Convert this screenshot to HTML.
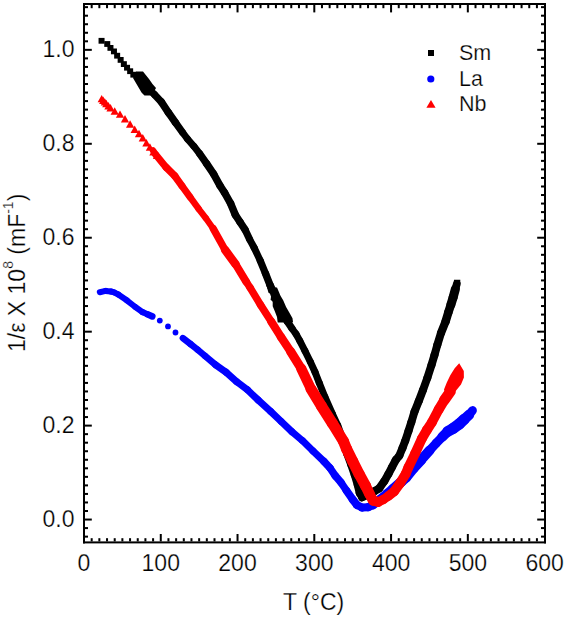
<!DOCTYPE html>
<html><head><meta charset="utf-8"><style>
html,body{margin:0;padding:0;background:#fff;width:566px;height:619px;overflow:hidden}
svg{display:block}
</style></head><body>
<svg width="566" height="619" viewBox="0 0 566 619">
<rect width="566" height="619" fill="#fff"/>
<rect x="83.0" y="3.0" width="2.0" height="540.4" fill="#000"/>
<rect x="544.0" y="3.0" width="2.0" height="540.4" fill="#000"/>
<rect x="83.0" y="3.0" width="463.0" height="2.0" fill="#000"/>
<rect x="83.0" y="541.4" width="463.0" height="2.0" fill="#000"/>
<rect x="90.68" y="538.20" width="2" height="3.2" fill="#000"/>
<rect x="90.68" y="5.00" width="2" height="3.2" fill="#000"/>
<rect x="98.35" y="538.20" width="2" height="3.2" fill="#000"/>
<rect x="98.35" y="5.00" width="2" height="3.2" fill="#000"/>
<rect x="106.03" y="538.20" width="2" height="3.2" fill="#000"/>
<rect x="106.03" y="5.00" width="2" height="3.2" fill="#000"/>
<rect x="113.71" y="538.20" width="2" height="3.2" fill="#000"/>
<rect x="113.71" y="5.00" width="2" height="3.2" fill="#000"/>
<rect x="121.38" y="538.20" width="2" height="3.2" fill="#000"/>
<rect x="121.38" y="5.00" width="2" height="3.2" fill="#000"/>
<rect x="129.06" y="538.20" width="2" height="3.2" fill="#000"/>
<rect x="129.06" y="5.00" width="2" height="3.2" fill="#000"/>
<rect x="136.74" y="538.20" width="2" height="3.2" fill="#000"/>
<rect x="136.74" y="5.00" width="2" height="3.2" fill="#000"/>
<rect x="144.41" y="538.20" width="2" height="3.2" fill="#000"/>
<rect x="144.41" y="5.00" width="2" height="3.2" fill="#000"/>
<rect x="152.09" y="538.20" width="2" height="3.2" fill="#000"/>
<rect x="152.09" y="5.00" width="2" height="3.2" fill="#000"/>
<rect x="159.77" y="534.00" width="2" height="7.4" fill="#000"/>
<rect x="159.77" y="5.00" width="2" height="7.4" fill="#000"/>
<rect x="167.44" y="538.20" width="2" height="3.2" fill="#000"/>
<rect x="167.44" y="5.00" width="2" height="3.2" fill="#000"/>
<rect x="175.12" y="538.20" width="2" height="3.2" fill="#000"/>
<rect x="175.12" y="5.00" width="2" height="3.2" fill="#000"/>
<rect x="182.80" y="538.20" width="2" height="3.2" fill="#000"/>
<rect x="182.80" y="5.00" width="2" height="3.2" fill="#000"/>
<rect x="190.47" y="538.20" width="2" height="3.2" fill="#000"/>
<rect x="190.47" y="5.00" width="2" height="3.2" fill="#000"/>
<rect x="198.15" y="538.20" width="2" height="3.2" fill="#000"/>
<rect x="198.15" y="5.00" width="2" height="3.2" fill="#000"/>
<rect x="205.83" y="538.20" width="2" height="3.2" fill="#000"/>
<rect x="205.83" y="5.00" width="2" height="3.2" fill="#000"/>
<rect x="213.50" y="538.20" width="2" height="3.2" fill="#000"/>
<rect x="213.50" y="5.00" width="2" height="3.2" fill="#000"/>
<rect x="221.18" y="538.20" width="2" height="3.2" fill="#000"/>
<rect x="221.18" y="5.00" width="2" height="3.2" fill="#000"/>
<rect x="228.86" y="538.20" width="2" height="3.2" fill="#000"/>
<rect x="228.86" y="5.00" width="2" height="3.2" fill="#000"/>
<rect x="236.53" y="534.00" width="2" height="7.4" fill="#000"/>
<rect x="236.53" y="5.00" width="2" height="7.4" fill="#000"/>
<rect x="244.21" y="538.20" width="2" height="3.2" fill="#000"/>
<rect x="244.21" y="5.00" width="2" height="3.2" fill="#000"/>
<rect x="251.89" y="538.20" width="2" height="3.2" fill="#000"/>
<rect x="251.89" y="5.00" width="2" height="3.2" fill="#000"/>
<rect x="259.56" y="538.20" width="2" height="3.2" fill="#000"/>
<rect x="259.56" y="5.00" width="2" height="3.2" fill="#000"/>
<rect x="267.24" y="538.20" width="2" height="3.2" fill="#000"/>
<rect x="267.24" y="5.00" width="2" height="3.2" fill="#000"/>
<rect x="274.92" y="538.20" width="2" height="3.2" fill="#000"/>
<rect x="274.92" y="5.00" width="2" height="3.2" fill="#000"/>
<rect x="282.59" y="538.20" width="2" height="3.2" fill="#000"/>
<rect x="282.59" y="5.00" width="2" height="3.2" fill="#000"/>
<rect x="290.27" y="538.20" width="2" height="3.2" fill="#000"/>
<rect x="290.27" y="5.00" width="2" height="3.2" fill="#000"/>
<rect x="297.95" y="538.20" width="2" height="3.2" fill="#000"/>
<rect x="297.95" y="5.00" width="2" height="3.2" fill="#000"/>
<rect x="305.62" y="538.20" width="2" height="3.2" fill="#000"/>
<rect x="305.62" y="5.00" width="2" height="3.2" fill="#000"/>
<rect x="313.30" y="534.00" width="2" height="7.4" fill="#000"/>
<rect x="313.30" y="5.00" width="2" height="7.4" fill="#000"/>
<rect x="320.98" y="538.20" width="2" height="3.2" fill="#000"/>
<rect x="320.98" y="5.00" width="2" height="3.2" fill="#000"/>
<rect x="328.65" y="538.20" width="2" height="3.2" fill="#000"/>
<rect x="328.65" y="5.00" width="2" height="3.2" fill="#000"/>
<rect x="336.33" y="538.20" width="2" height="3.2" fill="#000"/>
<rect x="336.33" y="5.00" width="2" height="3.2" fill="#000"/>
<rect x="344.01" y="538.20" width="2" height="3.2" fill="#000"/>
<rect x="344.01" y="5.00" width="2" height="3.2" fill="#000"/>
<rect x="351.68" y="538.20" width="2" height="3.2" fill="#000"/>
<rect x="351.68" y="5.00" width="2" height="3.2" fill="#000"/>
<rect x="359.36" y="538.20" width="2" height="3.2" fill="#000"/>
<rect x="359.36" y="5.00" width="2" height="3.2" fill="#000"/>
<rect x="367.04" y="538.20" width="2" height="3.2" fill="#000"/>
<rect x="367.04" y="5.00" width="2" height="3.2" fill="#000"/>
<rect x="374.71" y="538.20" width="2" height="3.2" fill="#000"/>
<rect x="374.71" y="5.00" width="2" height="3.2" fill="#000"/>
<rect x="382.39" y="538.20" width="2" height="3.2" fill="#000"/>
<rect x="382.39" y="5.00" width="2" height="3.2" fill="#000"/>
<rect x="390.07" y="534.00" width="2" height="7.4" fill="#000"/>
<rect x="390.07" y="5.00" width="2" height="7.4" fill="#000"/>
<rect x="397.74" y="538.20" width="2" height="3.2" fill="#000"/>
<rect x="397.74" y="5.00" width="2" height="3.2" fill="#000"/>
<rect x="405.42" y="538.20" width="2" height="3.2" fill="#000"/>
<rect x="405.42" y="5.00" width="2" height="3.2" fill="#000"/>
<rect x="413.10" y="538.20" width="2" height="3.2" fill="#000"/>
<rect x="413.10" y="5.00" width="2" height="3.2" fill="#000"/>
<rect x="420.77" y="538.20" width="2" height="3.2" fill="#000"/>
<rect x="420.77" y="5.00" width="2" height="3.2" fill="#000"/>
<rect x="428.45" y="538.20" width="2" height="3.2" fill="#000"/>
<rect x="428.45" y="5.00" width="2" height="3.2" fill="#000"/>
<rect x="436.13" y="538.20" width="2" height="3.2" fill="#000"/>
<rect x="436.13" y="5.00" width="2" height="3.2" fill="#000"/>
<rect x="443.80" y="538.20" width="2" height="3.2" fill="#000"/>
<rect x="443.80" y="5.00" width="2" height="3.2" fill="#000"/>
<rect x="451.48" y="538.20" width="2" height="3.2" fill="#000"/>
<rect x="451.48" y="5.00" width="2" height="3.2" fill="#000"/>
<rect x="459.16" y="538.20" width="2" height="3.2" fill="#000"/>
<rect x="459.16" y="5.00" width="2" height="3.2" fill="#000"/>
<rect x="466.83" y="534.00" width="2" height="7.4" fill="#000"/>
<rect x="466.83" y="5.00" width="2" height="7.4" fill="#000"/>
<rect x="474.51" y="538.20" width="2" height="3.2" fill="#000"/>
<rect x="474.51" y="5.00" width="2" height="3.2" fill="#000"/>
<rect x="482.19" y="538.20" width="2" height="3.2" fill="#000"/>
<rect x="482.19" y="5.00" width="2" height="3.2" fill="#000"/>
<rect x="489.86" y="538.20" width="2" height="3.2" fill="#000"/>
<rect x="489.86" y="5.00" width="2" height="3.2" fill="#000"/>
<rect x="497.54" y="538.20" width="2" height="3.2" fill="#000"/>
<rect x="497.54" y="5.00" width="2" height="3.2" fill="#000"/>
<rect x="505.22" y="538.20" width="2" height="3.2" fill="#000"/>
<rect x="505.22" y="5.00" width="2" height="3.2" fill="#000"/>
<rect x="512.89" y="538.20" width="2" height="3.2" fill="#000"/>
<rect x="512.89" y="5.00" width="2" height="3.2" fill="#000"/>
<rect x="520.57" y="538.20" width="2" height="3.2" fill="#000"/>
<rect x="520.57" y="5.00" width="2" height="3.2" fill="#000"/>
<rect x="528.25" y="538.20" width="2" height="3.2" fill="#000"/>
<rect x="528.25" y="5.00" width="2" height="3.2" fill="#000"/>
<rect x="535.92" y="538.20" width="2" height="3.2" fill="#000"/>
<rect x="535.92" y="5.00" width="2" height="3.2" fill="#000"/>
<rect x="85.00" y="535.63" width="3.0" height="2" fill="#000"/>
<rect x="541.00" y="535.63" width="3.0" height="2" fill="#000"/>
<rect x="85.00" y="527.09" width="3.0" height="2" fill="#000"/>
<rect x="541.00" y="527.09" width="3.0" height="2" fill="#000"/>
<rect x="85.00" y="518.55" width="6.8" height="2" fill="#000"/>
<rect x="537.20" y="518.55" width="6.8" height="2" fill="#000"/>
<rect x="85.00" y="510.01" width="3.0" height="2" fill="#000"/>
<rect x="541.00" y="510.01" width="3.0" height="2" fill="#000"/>
<rect x="85.00" y="501.47" width="3.0" height="2" fill="#000"/>
<rect x="541.00" y="501.47" width="3.0" height="2" fill="#000"/>
<rect x="85.00" y="492.93" width="3.0" height="2" fill="#000"/>
<rect x="541.00" y="492.93" width="3.0" height="2" fill="#000"/>
<rect x="85.00" y="484.39" width="3.0" height="2" fill="#000"/>
<rect x="541.00" y="484.39" width="3.0" height="2" fill="#000"/>
<rect x="85.00" y="475.85" width="3.0" height="2" fill="#000"/>
<rect x="541.00" y="475.85" width="3.0" height="2" fill="#000"/>
<rect x="85.00" y="467.31" width="3.0" height="2" fill="#000"/>
<rect x="541.00" y="467.31" width="3.0" height="2" fill="#000"/>
<rect x="85.00" y="458.77" width="3.0" height="2" fill="#000"/>
<rect x="541.00" y="458.77" width="3.0" height="2" fill="#000"/>
<rect x="85.00" y="450.23" width="3.0" height="2" fill="#000"/>
<rect x="541.00" y="450.23" width="3.0" height="2" fill="#000"/>
<rect x="85.00" y="441.69" width="3.0" height="2" fill="#000"/>
<rect x="541.00" y="441.69" width="3.0" height="2" fill="#000"/>
<rect x="85.00" y="433.15" width="3.0" height="2" fill="#000"/>
<rect x="541.00" y="433.15" width="3.0" height="2" fill="#000"/>
<rect x="85.00" y="424.61" width="6.8" height="2" fill="#000"/>
<rect x="537.20" y="424.61" width="6.8" height="2" fill="#000"/>
<rect x="85.00" y="416.07" width="3.0" height="2" fill="#000"/>
<rect x="541.00" y="416.07" width="3.0" height="2" fill="#000"/>
<rect x="85.00" y="407.53" width="3.0" height="2" fill="#000"/>
<rect x="541.00" y="407.53" width="3.0" height="2" fill="#000"/>
<rect x="85.00" y="398.99" width="3.0" height="2" fill="#000"/>
<rect x="541.00" y="398.99" width="3.0" height="2" fill="#000"/>
<rect x="85.00" y="390.45" width="3.0" height="2" fill="#000"/>
<rect x="541.00" y="390.45" width="3.0" height="2" fill="#000"/>
<rect x="85.00" y="381.91" width="3.0" height="2" fill="#000"/>
<rect x="541.00" y="381.91" width="3.0" height="2" fill="#000"/>
<rect x="85.00" y="373.37" width="3.0" height="2" fill="#000"/>
<rect x="541.00" y="373.37" width="3.0" height="2" fill="#000"/>
<rect x="85.00" y="364.83" width="3.0" height="2" fill="#000"/>
<rect x="541.00" y="364.83" width="3.0" height="2" fill="#000"/>
<rect x="85.00" y="356.29" width="3.0" height="2" fill="#000"/>
<rect x="541.00" y="356.29" width="3.0" height="2" fill="#000"/>
<rect x="85.00" y="347.75" width="3.0" height="2" fill="#000"/>
<rect x="541.00" y="347.75" width="3.0" height="2" fill="#000"/>
<rect x="85.00" y="339.21" width="3.0" height="2" fill="#000"/>
<rect x="541.00" y="339.21" width="3.0" height="2" fill="#000"/>
<rect x="85.00" y="330.67" width="6.8" height="2" fill="#000"/>
<rect x="537.20" y="330.67" width="6.8" height="2" fill="#000"/>
<rect x="85.00" y="322.13" width="3.0" height="2" fill="#000"/>
<rect x="541.00" y="322.13" width="3.0" height="2" fill="#000"/>
<rect x="85.00" y="313.59" width="3.0" height="2" fill="#000"/>
<rect x="541.00" y="313.59" width="3.0" height="2" fill="#000"/>
<rect x="85.00" y="305.05" width="3.0" height="2" fill="#000"/>
<rect x="541.00" y="305.05" width="3.0" height="2" fill="#000"/>
<rect x="85.00" y="296.51" width="3.0" height="2" fill="#000"/>
<rect x="541.00" y="296.51" width="3.0" height="2" fill="#000"/>
<rect x="85.00" y="287.97" width="3.0" height="2" fill="#000"/>
<rect x="541.00" y="287.97" width="3.0" height="2" fill="#000"/>
<rect x="85.00" y="279.43" width="3.0" height="2" fill="#000"/>
<rect x="541.00" y="279.43" width="3.0" height="2" fill="#000"/>
<rect x="85.00" y="270.89" width="3.0" height="2" fill="#000"/>
<rect x="541.00" y="270.89" width="3.0" height="2" fill="#000"/>
<rect x="85.00" y="262.35" width="3.0" height="2" fill="#000"/>
<rect x="541.00" y="262.35" width="3.0" height="2" fill="#000"/>
<rect x="85.00" y="253.81" width="3.0" height="2" fill="#000"/>
<rect x="541.00" y="253.81" width="3.0" height="2" fill="#000"/>
<rect x="85.00" y="245.27" width="3.0" height="2" fill="#000"/>
<rect x="541.00" y="245.27" width="3.0" height="2" fill="#000"/>
<rect x="85.00" y="236.73" width="6.8" height="2" fill="#000"/>
<rect x="537.20" y="236.73" width="6.8" height="2" fill="#000"/>
<rect x="85.00" y="228.19" width="3.0" height="2" fill="#000"/>
<rect x="541.00" y="228.19" width="3.0" height="2" fill="#000"/>
<rect x="85.00" y="219.65" width="3.0" height="2" fill="#000"/>
<rect x="541.00" y="219.65" width="3.0" height="2" fill="#000"/>
<rect x="85.00" y="211.11" width="3.0" height="2" fill="#000"/>
<rect x="541.00" y="211.11" width="3.0" height="2" fill="#000"/>
<rect x="85.00" y="202.57" width="3.0" height="2" fill="#000"/>
<rect x="541.00" y="202.57" width="3.0" height="2" fill="#000"/>
<rect x="85.00" y="194.03" width="3.0" height="2" fill="#000"/>
<rect x="541.00" y="194.03" width="3.0" height="2" fill="#000"/>
<rect x="85.00" y="185.49" width="3.0" height="2" fill="#000"/>
<rect x="541.00" y="185.49" width="3.0" height="2" fill="#000"/>
<rect x="85.00" y="176.95" width="3.0" height="2" fill="#000"/>
<rect x="541.00" y="176.95" width="3.0" height="2" fill="#000"/>
<rect x="85.00" y="168.41" width="3.0" height="2" fill="#000"/>
<rect x="541.00" y="168.41" width="3.0" height="2" fill="#000"/>
<rect x="85.00" y="159.87" width="3.0" height="2" fill="#000"/>
<rect x="541.00" y="159.87" width="3.0" height="2" fill="#000"/>
<rect x="85.00" y="151.33" width="3.0" height="2" fill="#000"/>
<rect x="541.00" y="151.33" width="3.0" height="2" fill="#000"/>
<rect x="85.00" y="142.79" width="6.8" height="2" fill="#000"/>
<rect x="537.20" y="142.79" width="6.8" height="2" fill="#000"/>
<rect x="85.00" y="134.25" width="3.0" height="2" fill="#000"/>
<rect x="541.00" y="134.25" width="3.0" height="2" fill="#000"/>
<rect x="85.00" y="125.71" width="3.0" height="2" fill="#000"/>
<rect x="541.00" y="125.71" width="3.0" height="2" fill="#000"/>
<rect x="85.00" y="117.17" width="3.0" height="2" fill="#000"/>
<rect x="541.00" y="117.17" width="3.0" height="2" fill="#000"/>
<rect x="85.00" y="108.63" width="3.0" height="2" fill="#000"/>
<rect x="541.00" y="108.63" width="3.0" height="2" fill="#000"/>
<rect x="85.00" y="100.09" width="3.0" height="2" fill="#000"/>
<rect x="541.00" y="100.09" width="3.0" height="2" fill="#000"/>
<rect x="85.00" y="91.55" width="3.0" height="2" fill="#000"/>
<rect x="541.00" y="91.55" width="3.0" height="2" fill="#000"/>
<rect x="85.00" y="83.01" width="3.0" height="2" fill="#000"/>
<rect x="541.00" y="83.01" width="3.0" height="2" fill="#000"/>
<rect x="85.00" y="74.47" width="3.0" height="2" fill="#000"/>
<rect x="541.00" y="74.47" width="3.0" height="2" fill="#000"/>
<rect x="85.00" y="65.93" width="3.0" height="2" fill="#000"/>
<rect x="541.00" y="65.93" width="3.0" height="2" fill="#000"/>
<rect x="85.00" y="57.39" width="3.0" height="2" fill="#000"/>
<rect x="541.00" y="57.39" width="3.0" height="2" fill="#000"/>
<rect x="85.00" y="48.85" width="6.8" height="2" fill="#000"/>
<rect x="537.20" y="48.85" width="6.8" height="2" fill="#000"/>
<rect x="85.00" y="40.31" width="3.0" height="2" fill="#000"/>
<rect x="541.00" y="40.31" width="3.0" height="2" fill="#000"/>
<rect x="85.00" y="31.77" width="3.0" height="2" fill="#000"/>
<rect x="541.00" y="31.77" width="3.0" height="2" fill="#000"/>
<rect x="85.00" y="23.23" width="3.0" height="2" fill="#000"/>
<rect x="541.00" y="23.23" width="3.0" height="2" fill="#000"/>
<rect x="85.00" y="14.69" width="3.0" height="2" fill="#000"/>
<rect x="541.00" y="14.69" width="3.0" height="2" fill="#000"/>
<rect x="85.00" y="6.15" width="3.0" height="2" fill="#000"/>
<rect x="541.00" y="6.15" width="3.0" height="2" fill="#000"/>
<text x="84.00" y="570.5" font-family="Liberation Sans" stroke="#fff" stroke-width="0.25" font-size="23" text-anchor="middle">0</text>
<text x="160.77" y="570.5" font-family="Liberation Sans" stroke="#fff" stroke-width="0.25" font-size="23" text-anchor="middle">100</text>
<text x="237.53" y="570.5" font-family="Liberation Sans" stroke="#fff" stroke-width="0.25" font-size="23" text-anchor="middle">200</text>
<text x="314.30" y="570.5" font-family="Liberation Sans" stroke="#fff" stroke-width="0.25" font-size="23" text-anchor="middle">300</text>
<text x="391.07" y="570.5" font-family="Liberation Sans" stroke="#fff" stroke-width="0.25" font-size="23" text-anchor="middle">400</text>
<text x="467.83" y="570.5" font-family="Liberation Sans" stroke="#fff" stroke-width="0.25" font-size="23" text-anchor="middle">500</text>
<text x="544.60" y="570.5" font-family="Liberation Sans" stroke="#fff" stroke-width="0.25" font-size="23" text-anchor="middle">600</text>
<text x="74.5" y="527.05" font-family="Liberation Sans" stroke="#fff" stroke-width="0.25" font-size="23" text-anchor="end">0.0</text>
<text x="74.5" y="433.11" font-family="Liberation Sans" stroke="#fff" stroke-width="0.25" font-size="23" text-anchor="end">0.2</text>
<text x="74.5" y="339.17" font-family="Liberation Sans" stroke="#fff" stroke-width="0.25" font-size="23" text-anchor="end">0.4</text>
<text x="74.5" y="245.23" font-family="Liberation Sans" stroke="#fff" stroke-width="0.25" font-size="23" text-anchor="end">0.6</text>
<text x="74.5" y="151.29" font-family="Liberation Sans" stroke="#fff" stroke-width="0.25" font-size="23" text-anchor="end">0.8</text>
<text x="74.5" y="57.35" font-family="Liberation Sans" stroke="#fff" stroke-width="0.25" font-size="23" text-anchor="end">1.0</text>
<text x="283" y="610.3" font-family="Liberation Sans" stroke="#fff" stroke-width="0.25" font-size="23">T (°C)</text>
<g transform="translate(25,352) rotate(-90)"><text x="0" y="0" font-family="Liberation Sans" stroke="#fff" stroke-width="0.25" font-size="23">1/ε X 10<tspan font-size="14" dy="-12">8</tspan><tspan dy="12"> (mF</tspan><tspan font-size="14" dy="-12">-1</tspan><tspan dy="12">)</tspan></text></g>
<rect x="428" y="50" width="6" height="6" fill="#000"/>
<circle cx="430.8" cy="79" r="3.6" fill="#0000ff"/>
<path d="M431,100 L435.6,107.8 L426.4,107.8 Z" fill="#ff0000"/>
<text x="459" y="60.3" font-family="Liberation Sans" stroke="#fff" stroke-width="0.25" font-size="21.5">Sm</text>
<text x="459" y="86" font-family="Liberation Sans" stroke="#fff" stroke-width="0.25" font-size="21.5">La</text>
<text x="459" y="111" font-family="Liberation Sans" stroke="#fff" stroke-width="0.25" font-size="21.5">Nb</text>
<g stroke="#0000ff" stroke-linecap="round" fill="none"><line x1="99.8" y1="292.2" x2="105.6" y2="290.9" stroke-width="6.00"/><line x1="105.6" y1="290.9" x2="110.9" y2="291.5" stroke-width="6.00"/><line x1="110.9" y1="291.5" x2="114.1" y2="292.4" stroke-width="6.00"/><line x1="114.1" y1="292.4" x2="118.3" y2="294.5" stroke-width="6.00"/><line x1="118.3" y1="294.5" x2="126.8" y2="300.3" stroke-width="6.00"/><line x1="126.8" y1="300.3" x2="135.3" y2="307" stroke-width="6.00"/><line x1="135.3" y1="307" x2="142.7" y2="312.2" stroke-width="6.00"/><line x1="142.7" y1="312.2" x2="148" y2="314.5" stroke-width="6.25"/><line x1="148" y1="314.5" x2="152.2" y2="316.3" stroke-width="6.75"/></g>
<g stroke="#0000ff" stroke-linecap="round" fill="none"><line x1="182.9" y1="338.1" x2="190.3" y2="343.9" stroke-width="6.50"/><line x1="190.3" y1="343.9" x2="197.7" y2="349.8" stroke-width="6.50"/><line x1="197.7" y1="349.8" x2="205.1" y2="356" stroke-width="6.50"/><line x1="205.1" y1="356" x2="215.6" y2="364.8" stroke-width="6.75"/><line x1="215.6" y1="364.8" x2="226.2" y2="372.3" stroke-width="7.00"/><line x1="226.2" y1="372.3" x2="236.8" y2="381.8" stroke-width="7.00"/><line x1="236.8" y1="381.8" x2="247.4" y2="389.8" stroke-width="7.00"/><line x1="247.4" y1="389.8" x2="258" y2="399.9" stroke-width="7.00"/><line x1="258" y1="399.9" x2="270.6" y2="411.4" stroke-width="7.00"/><line x1="270.6" y1="411.4" x2="281.2" y2="421.5" stroke-width="7.00"/><line x1="281.2" y1="421.5" x2="291.8" y2="431.6" stroke-width="7.00"/><line x1="291.8" y1="431.6" x2="302.4" y2="440.6" stroke-width="7.00"/><line x1="302.4" y1="440.6" x2="313" y2="451" stroke-width="7.00"/><line x1="313" y1="451" x2="323.9" y2="461.4" stroke-width="7.25"/><line x1="323.9" y1="461.4" x2="330" y2="468" stroke-width="7.50"/><line x1="330" y1="468" x2="335.3" y2="475.8" stroke-width="7.50"/><line x1="335.3" y1="475.8" x2="341" y2="482.5" stroke-width="7.50"/><line x1="341" y1="482.5" x2="346.4" y2="490.5" stroke-width="7.50"/><line x1="346.4" y1="490.5" x2="352.7" y2="499.5" stroke-width="7.75"/><line x1="352.7" y1="499.5" x2="357" y2="505" stroke-width="8.00"/><line x1="357" y1="505" x2="362" y2="507.5" stroke-width="8.00"/><line x1="362" y1="507.5" x2="368" y2="507.2" stroke-width="8.00"/><line x1="368" y1="507.2" x2="373" y2="505" stroke-width="8.25"/><line x1="373" y1="505" x2="380" y2="499.5" stroke-width="8.75"/><line x1="380" y1="499.5" x2="387" y2="494" stroke-width="9.25"/><line x1="387" y1="494" x2="393" y2="489" stroke-width="9.75"/><line x1="393" y1="489" x2="401" y2="482" stroke-width="10.25"/><line x1="401" y1="482" x2="406" y2="477.5" stroke-width="10.25"/><line x1="406" y1="477.5" x2="413.6" y2="468" stroke-width="10.25"/><line x1="413.6" y1="468" x2="421" y2="460" stroke-width="10.50"/><line x1="421" y1="460" x2="429.5" y2="450.5" stroke-width="10.00"/><line x1="429.5" y1="450.5" x2="436.2" y2="443.2" stroke-width="9.00"/><line x1="436.2" y1="443.2" x2="442.4" y2="436.8" stroke-width="9.00"/><line x1="442.4" y1="436.8" x2="447.7" y2="431.5" stroke-width="10.00"/><line x1="447.7" y1="431.5" x2="453" y2="428.5" stroke-width="10.75"/><line x1="453" y1="428.5" x2="459.2" y2="424" stroke-width="11.25"/><line x1="459.2" y1="424" x2="464" y2="419.5" stroke-width="11.25"/><line x1="464" y1="419.5" x2="468.9" y2="415" stroke-width="10.50"/><line x1="468.9" y1="415" x2="472.5" y2="410.5" stroke-width="8.75"/></g>
<circle cx="159.8" cy="320.6" r="2.9" fill="#0000ff"/>
<circle cx="168" cy="326.4" r="2.9" fill="#0000ff"/>
<circle cx="175.5" cy="332.5" r="2.9" fill="#0000ff"/>
<g stroke="#000" stroke-linecap="round" fill="none"><line x1="150" y1="90" x2="154.4" y2="94.5" stroke-width="7.00"/><line x1="154.4" y1="94.5" x2="161.4" y2="102" stroke-width="7.25"/><line x1="161.4" y1="102" x2="168.5" y2="112.7" stroke-width="7.50"/><line x1="168.5" y1="112.7" x2="175.5" y2="122.6" stroke-width="7.50"/><line x1="175.5" y1="122.6" x2="182.6" y2="132.5" stroke-width="7.25"/><line x1="182.6" y1="132.5" x2="187.5" y2="139" stroke-width="7.00"/><line x1="187.5" y1="139" x2="193.8" y2="146.2" stroke-width="7.00"/><line x1="193.8" y1="146.2" x2="199.6" y2="153.7" stroke-width="7.00"/><line x1="199.6" y1="153.7" x2="206.6" y2="163.6" stroke-width="7.25"/><line x1="206.6" y1="163.6" x2="213.6" y2="174" stroke-width="7.50"/><line x1="213.6" y1="174" x2="219.9" y2="185.5" stroke-width="7.50"/><line x1="219.9" y1="185.5" x2="224.6" y2="192.7" stroke-width="7.50"/><line x1="224.6" y1="192.7" x2="230.5" y2="203.3" stroke-width="7.50"/><line x1="230.5" y1="203.3" x2="235.4" y2="215" stroke-width="7.50"/><line x1="235.4" y1="215" x2="240" y2="222" stroke-width="7.50"/><line x1="240" y1="222" x2="245.1" y2="229.8" stroke-width="7.50"/><line x1="245.1" y1="229.8" x2="249.6" y2="239.3" stroke-width="7.25"/><line x1="249.6" y1="239.3" x2="254.3" y2="248" stroke-width="7.00"/><line x1="254.3" y1="248" x2="260.3" y2="260.8" stroke-width="7.00"/><line x1="260.3" y1="260.8" x2="265.5" y2="273.5" stroke-width="7.25"/><line x1="265.5" y1="273.5" x2="270" y2="285" stroke-width="7.50"/><line x1="270" y1="285" x2="272.8" y2="290.6" stroke-width="7.50"/><line x1="272.8" y1="290.6" x2="276.6" y2="301.2" stroke-width="7.50"/><line x1="276.6" y1="301.2" x2="281.5" y2="311.8" stroke-width="7.50"/><line x1="281.5" y1="311.8" x2="287" y2="321" stroke-width="7.50"/><line x1="287" y1="321" x2="292" y2="328.5" stroke-width="7.25"/><line x1="292" y1="328.5" x2="296" y2="334" stroke-width="7.00"/><line x1="296" y1="334" x2="299.7" y2="340.6" stroke-width="7.00"/><line x1="299.7" y1="340.6" x2="305" y2="351" stroke-width="7.00"/><line x1="305" y1="351" x2="310.3" y2="361.8" stroke-width="7.00"/><line x1="310.3" y1="361.8" x2="315" y2="372" stroke-width="7.00"/><line x1="315" y1="372" x2="319.3" y2="383" stroke-width="7.00"/><line x1="319.3" y1="383" x2="324.8" y2="396.7" stroke-width="7.00"/><line x1="324.8" y1="396.7" x2="332.3" y2="413.6" stroke-width="7.00"/><line x1="332.3" y1="413.6" x2="337.6" y2="425.3" stroke-width="7.00"/><line x1="337.6" y1="425.3" x2="343" y2="440" stroke-width="7.25"/><line x1="343" y1="440" x2="347" y2="454" stroke-width="7.50"/><line x1="347" y1="454" x2="351" y2="464.7" stroke-width="7.50"/><line x1="351" y1="464.7" x2="354.5" y2="475" stroke-width="7.50"/><line x1="354.5" y1="475" x2="357.5" y2="485" stroke-width="7.50"/><line x1="357.5" y1="485" x2="359.5" y2="493" stroke-width="7.50"/><line x1="359.5" y1="493" x2="362" y2="497.5" stroke-width="7.50"/><line x1="362" y1="497.5" x2="368" y2="495" stroke-width="7.75"/><line x1="368" y1="495" x2="374" y2="491.5" stroke-width="8.00"/><line x1="374" y1="491.5" x2="379.2" y2="488.3" stroke-width="8.00"/><line x1="379.2" y1="488.3" x2="384.3" y2="481.2" stroke-width="8.00"/><line x1="384.3" y1="481.2" x2="388.4" y2="474.1" stroke-width="8.00"/><line x1="388.4" y1="474.1" x2="392" y2="467.1" stroke-width="8.00"/><line x1="392" y1="467.1" x2="395.8" y2="460" stroke-width="8.00"/><line x1="395.8" y1="460" x2="399.3" y2="455.7" stroke-width="8.00"/><line x1="399.3" y1="455.7" x2="402.5" y2="448" stroke-width="8.00"/><line x1="402.5" y1="448" x2="405.2" y2="440.9" stroke-width="8.00"/><line x1="405.2" y1="440.9" x2="408.5" y2="431" stroke-width="8.00"/><line x1="408.5" y1="431" x2="411.3" y2="422.3" stroke-width="8.00"/><line x1="411.3" y1="422.3" x2="414.5" y2="411.7" stroke-width="8.00"/><line x1="414.5" y1="411.7" x2="418.8" y2="401" stroke-width="8.00"/><line x1="418.8" y1="401" x2="423" y2="390" stroke-width="8.00"/><line x1="423" y1="390" x2="427.3" y2="378" stroke-width="8.00"/><line x1="427.3" y1="378" x2="431.5" y2="365" stroke-width="8.00"/><line x1="431.5" y1="365" x2="434.5" y2="355" stroke-width="8.00"/><line x1="434.5" y1="355" x2="437.3" y2="345" stroke-width="8.00"/><line x1="437.3" y1="345" x2="441" y2="333" stroke-width="8.00"/><line x1="441" y1="333" x2="445.6" y2="321.4" stroke-width="8.25"/><line x1="445.6" y1="321.4" x2="448.3" y2="312.5" stroke-width="8.50"/><line x1="448.3" y1="312.5" x2="450.9" y2="304.6" stroke-width="8.65"/><line x1="450.9" y1="304.6" x2="453.1" y2="297.5" stroke-width="9.05"/><line x1="453.1" y1="297.5" x2="455.4" y2="289" stroke-width="9.05"/><line x1="455.4" y1="289" x2="456.8" y2="284" stroke-width="7.80"/></g>
<polygon points="136,71.5 143,71.5 149,79 152.5,84 156,88 152,95.5 144.5,95.5 141.5,92.5 133,78" fill="#000"/>
<polygon points="454,279.8 460.3,279.8 460,285 453.5,285" fill="#000"/>
<g stroke="#ff0000" stroke-linecap="round" fill="none"><line x1="153" y1="150.5" x2="155.6" y2="154.4" stroke-width="6.55"/><line x1="155.6" y1="154.4" x2="166.2" y2="167.4" stroke-width="7.05"/><line x1="166.2" y1="167.4" x2="174.7" y2="175.8" stroke-width="7.30"/><line x1="174.7" y1="175.8" x2="182" y2="186" stroke-width="7.30"/><line x1="182" y1="186" x2="190" y2="197" stroke-width="7.05"/><line x1="190" y1="197" x2="198.5" y2="208.7" stroke-width="6.55"/><line x1="198.5" y1="208.7" x2="205.9" y2="218.2" stroke-width="6.30"/><line x1="205.9" y1="218.2" x2="213.3" y2="228.7" stroke-width="6.30"/><line x1="213.3" y1="228.7" x2="225" y2="249.8" stroke-width="7.40"/><line x1="225" y1="249.8" x2="235.6" y2="264.3" stroke-width="8.40"/><line x1="235.6" y1="264.3" x2="246.2" y2="281.7" stroke-width="7.80"/><line x1="246.2" y1="281.7" x2="250" y2="287.5" stroke-width="7.30"/><line x1="250" y1="287.5" x2="260.6" y2="305" stroke-width="7.30"/><line x1="260.6" y1="305" x2="271.2" y2="321.5" stroke-width="7.55"/><line x1="271.2" y1="321.5" x2="281" y2="337" stroke-width="8.05"/><line x1="281" y1="337" x2="290.6" y2="351.5" stroke-width="8.55"/><line x1="290.6" y1="351.5" x2="301.2" y2="368.5" stroke-width="9.05"/><line x1="301.2" y1="368.5" x2="311" y2="389" stroke-width="10.15"/><line x1="311" y1="389" x2="321.5" y2="406.2" stroke-width="11.00"/><line x1="321.5" y1="406.2" x2="332.3" y2="423.2" stroke-width="11.00"/><line x1="332.3" y1="423.2" x2="343.4" y2="441.2" stroke-width="11.00"/><line x1="343.4" y1="441.2" x2="346.5" y2="448.8" stroke-width="11.00"/><line x1="346.5" y1="448.8" x2="352.8" y2="461.5" stroke-width="11.00"/><line x1="352.8" y1="461.5" x2="359.2" y2="474.2" stroke-width="11.00"/><line x1="359.2" y1="474.2" x2="365.6" y2="485.9" stroke-width="11.00"/><line x1="365.6" y1="485.9" x2="369.5" y2="494" stroke-width="10.75"/><line x1="369.5" y1="494" x2="373" y2="500.5" stroke-width="10.25"/><line x1="373" y1="500.5" x2="378" y2="502" stroke-width="10.00"/><line x1="378" y1="502" x2="383.4" y2="499.5" stroke-width="9.40"/><line x1="383.4" y1="499.5" x2="388.4" y2="496" stroke-width="9.05"/><line x1="388.4" y1="496" x2="394.1" y2="491.5" stroke-width="9.55"/><line x1="394.1" y1="491.5" x2="399.9" y2="483.3" stroke-width="9.80"/><line x1="399.9" y1="483.3" x2="405.6" y2="474.1" stroke-width="9.80"/><line x1="405.6" y1="474.1" x2="408.4" y2="467.4" stroke-width="9.80"/><line x1="408.4" y1="467.4" x2="415.1" y2="453.6" stroke-width="9.80"/><line x1="415.1" y1="453.6" x2="421.8" y2="438.8" stroke-width="9.80"/><line x1="421.8" y1="438.8" x2="426.9" y2="430" stroke-width="9.80"/><line x1="426.9" y1="430" x2="431.9" y2="422.3" stroke-width="9.80"/><line x1="431.9" y1="422.3" x2="438.7" y2="409.5" stroke-width="9.80"/><line x1="438.7" y1="409.5" x2="444.4" y2="400" stroke-width="10.05"/><line x1="444.4" y1="400" x2="450.4" y2="391.5" stroke-width="10.80"/></g>
<polygon points="267,287.5 268.5,292.8 271.3,294.2 270.6,299.9 272.7,301.3 272.7,306.3 274.8,311.2 277,316.9 277.7,322.5 283.3,322.5 284,319.7 288.3,325.3 293,322 292.5,318.3 289,311.9 286.1,307 283.3,300.6 280.5,295.7 277,287.5" fill="#000"/>
<g fill="#000"><rect x="98.55" y="37.9" width="6" height="5.8"/><rect x="104.25" y="41.099999999999994" width="6" height="5.8"/><rect x="107.45" y="45.0" width="6" height="5.8"/><rect x="110.95" y="48.5" width="6" height="5.8"/><rect x="114.15" y="52.8" width="6" height="5.8"/><rect x="117.65" y="57.0" width="6" height="5.8"/><rect x="120.85" y="61.199999999999996" width="6" height="5.8"/><rect x="124.05" y="64.8" width="6" height="5.8"/><rect x="127.15" y="68.3" width="6" height="5.8"/><rect x="130.35" y="71.8" width="6" height="5.8"/></g>
<g fill="#ff0000"><path d="M101.7,94.9 L105.80,102.30 L97.60,102.30Z"/><path d="M103.2,96.5 L107.30,103.90 L99.10,103.90Z"/><path d="M104.8,98.2 L108.90,105.60 L100.70,105.60Z"/><path d="M106.3,99.8 L110.40,107.20 L102.20,107.20Z"/><path d="M108.4,102 L112.50,109.40 L104.30,109.40Z"/><path d="M110.5,104.1 L114.60,111.50 L106.40,111.50Z"/><path d="M114.7,107.3 L118.80,114.70 L110.60,114.70Z"/><path d="M120,110.4 L124.10,117.80 L115.90,117.80Z"/><path d="M125,115 L129.10,122.40 L120.90,122.40Z"/><path d="M130.1,120.3 L134.20,127.70 L126.00,127.70Z"/><path d="M134.7,125.6 L138.80,133.00 L130.60,133.00Z"/><path d="M139,129.8 L143.10,137.20 L134.90,137.20Z"/><path d="M142.8,134.1 L146.90,141.50 L138.70,141.50Z"/><path d="M146.4,139 L150.50,146.40 L142.30,146.40Z"/><path d="M149.9,143.3 L154.00,150.70 L145.80,150.70Z"/><path d="M153.4,148.2 L157.50,155.60 L149.30,155.60Z"/><path d="M157,151.7 L161.10,159.10 L152.90,159.10Z"/></g>
<polygon points="459.2,363.3 463.8,371 463.9,377.5 461,384.5 456.5,390 453,394.5 446,396 444,389.5 446.8,382.4 450.3,375.3 454.7,368.3" fill="#ff0000"/>
</svg>
</body></html>
